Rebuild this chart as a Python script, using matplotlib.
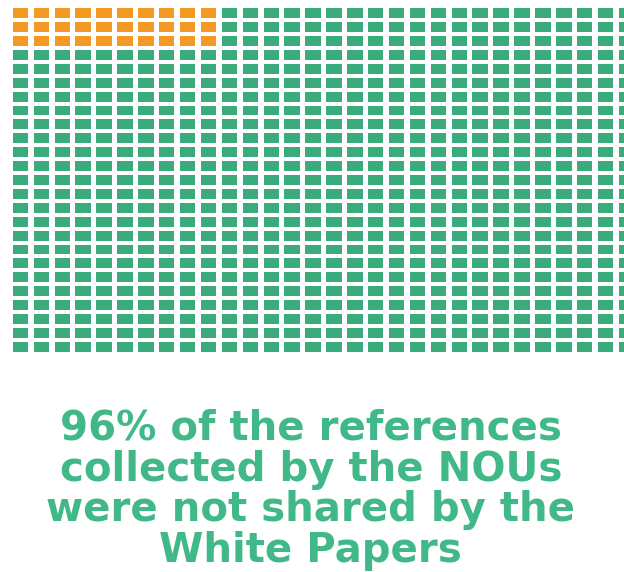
import numpy as np
import matplotlib
matplotlib.use("Agg")
import matplotlib.pyplot as plt

# waffle grid: 30 columns x 25 rows, shared block in top-left corner
n_cols = 30
n_rows = 25
shared_cols = 10
shared_rows = 3
pct_not_shared = 96

caption = [
    "%d%% of the references" % pct_not_shared,
    "collected by the NOUs",
    "were not shared by the",
    "White Papers",
]

green = "#3aac7c"
orange = "#f49a24"
text_green = "#41b888"

fig = plt.figure(figsize=(6.24, 5.72), dpi=100)
ax = fig.add_axes([0, 0, 1, 1])

# map grid indices to the picture: column pitch 20.9px, row pitch 13.9px
W, H = 624.0, 572.0
x0, px = 12.7, 20.9
y0, py = 8.3, 13.9
ax.set_xlim(-x0 / px, (W - x0) / px)
ax.set_ylim((H - y0) / py, -y0 / py)
ax.axis("off")

cols = np.arange(n_cols)
for r in range(n_rows):
    colors = [orange if (r < shared_rows and c < shared_cols) else green for c in cols]
    ax.bar(cols, 0.71, width=0.74, bottom=r, align="edge", color=colors, linewidth=0)

baselines = [440, 481, 521, 562]
for line, b in zip(caption, baselines):
    fig.text(0.498, 1 - b / H, line, ha="center", va="baseline",
             fontsize=29, fontweight="bold", color=text_green,
             family="DejaVu Sans")

fig.savefig("out.png", dpi=100)
